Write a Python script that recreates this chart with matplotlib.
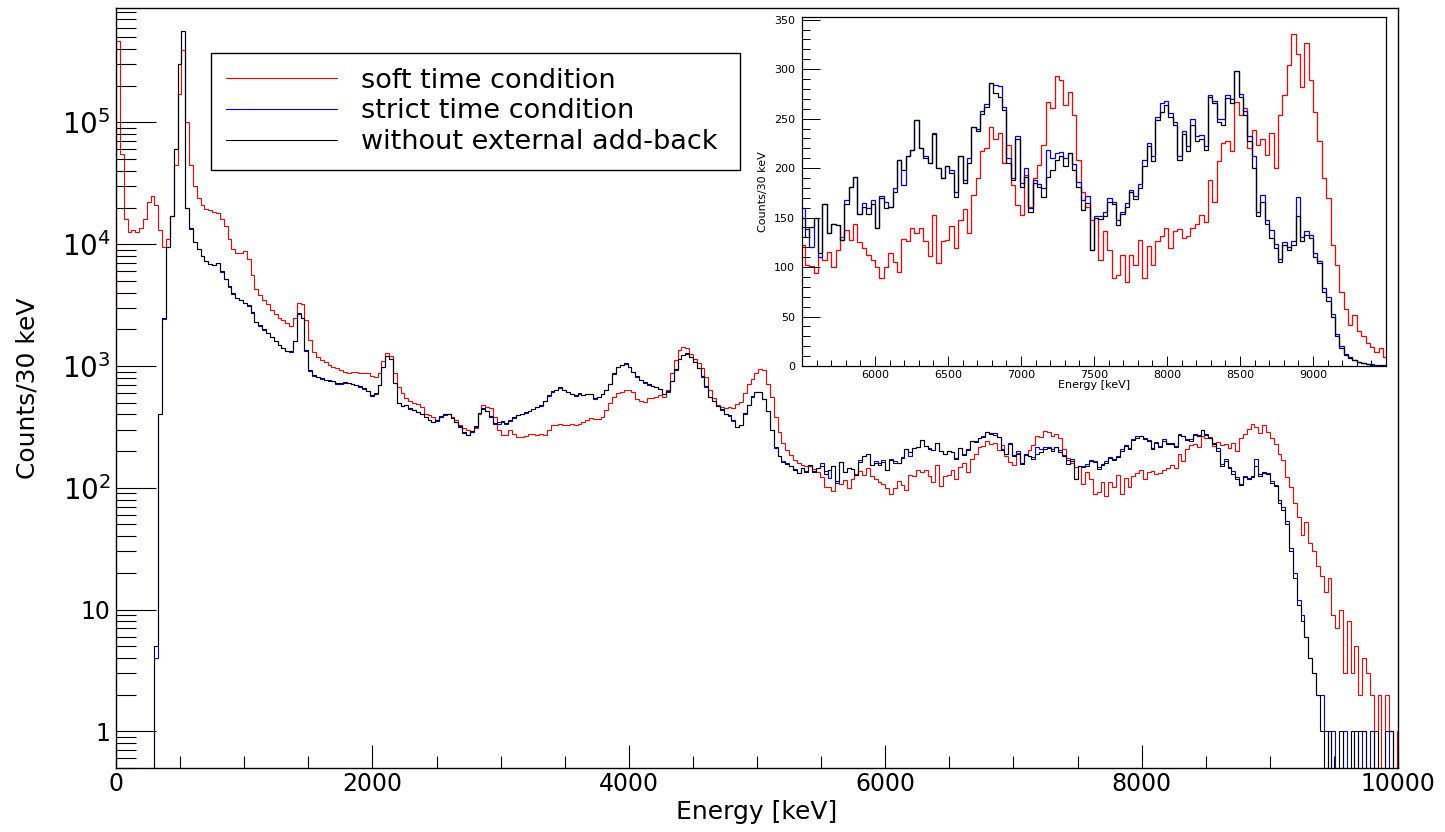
import numpy as np
import matplotlib
matplotlib.use("Agg")
import matplotlib.pyplot as plt
from matplotlib.lines import Line2D
from matplotlib.ticker import (MultipleLocator, FixedLocator, LogLocator, NullFormatter)

plt.rcParams['font.family'] = ['DejaVu Sans']
plt.rcParams['mathtext.default'] = 'regular'

# histogram binning: 30 keV bins, first bin (-30..0) only gives the step at E = 0
bin_width = 30
first_edge = -30

# counts per bin (rows of 10 bins = 300 keV)
soft_time = [3000,
    470000, 55000, 16000, 12500, 13000, 12500, 13500, 16000, 22000, 25000,
    21000, 13000, 9500, 11000, 17000, 45000, 170000, 390000, 100000, 45000,
    30000, 24000, 21000, 19500, 19000, 18500, 18000, 16000, 14000, 11000,
    9200, 8400, 8400, 8800, 7500, 5600, 4300, 3800, 3500, 3200,
    2900, 2650, 2500, 2400, 2250, 2150, 2500, 3300, 3200, 2400,
    1650, 1300, 1180, 1120, 1070, 1020, 990, 960, 930, 900,
    870, 890, 900, 870, 870, 870, 820, 810, 880, 1100,
    1270, 1200, 870, 670, 600, 550, 520, 500, 490, 460,
    407, 394, 380, 359, 382, 400, 407, 382, 359, 327,
    307, 300, 288, 307, 400, 477, 460, 448, 382, 297,
    270, 272, 297, 275, 262, 262, 268, 279, 274, 270,
    279, 270, 300, 327, 327, 337, 330, 327, 337, 327,
    337, 345, 359, 371, 365, 370, 382, 434, 500, 560,
    600, 614, 633, 633, 610, 540, 515, 508, 541, 541,
    558, 576, 558, 633, 869, 1117, 1350, 1420, 1400, 1260,
    1150, 1049, 955, 815, 633, 541, 477, 462, 455, 460,
    448, 492, 508, 595, 718, 789, 869, 940, 925, 718,
    558, 382, 288, 231, 204, 185, 170, 160, 155, 152,
    150, 142, 135, 122, 102, 101, 94, 110, 107, 115,
    100, 117, 130, 137, 127, 144, 125, 119, 112, 107,
    100, 89, 100, 114, 105, 95, 128, 126, 139, 134,
    139, 126, 111, 153, 104, 126, 127, 141, 119, 148,
    159, 134, 173, 190, 217, 220, 242, 229, 235, 205,
    223, 183, 163, 153, 193, 161, 190, 203, 223, 267,
    261, 293, 289, 264, 277, 254, 208, 176, 161, 148,
    150, 107, 136, 117, 89, 92, 112, 85, 112, 102,
    127, 89, 121, 102, 126, 131, 139, 119, 136, 138,
    129, 131, 139, 144, 153, 146, 188, 166, 207, 225,
    227, 217, 267, 254, 261, 220, 239, 223, 229, 213,
    235, 200, 254, 274, 304, 336, 315, 282, 326, 289,
    257, 227, 190, 170, 122, 102, 75, 58, 41, 52,
    35, 30, 23, 19, 14, 18, 9, 7, 10, 3,
    8, 3, 5, 2, 4, 3, 2, 1, 2, 0,
    2, 1, 0, 1]

strict_time = [0,
    0, 0, 0, 0, 0, 0, 0, 0, 0, 0,
    4, 400, 2450, 9500, 17000, 60000, 300000, 560000, 20000, 13400,
    10400, 9100, 8000, 7250, 6850, 6750, 6950, 5950, 5150, 4450,
    3900, 3650, 3450, 3300, 3120, 2720, 2300, 2150, 1990, 1860,
    1720, 1600, 1490, 1395, 1320, 1310, 1590, 2650, 2480, 1340,
    915, 830, 805, 785, 765, 760, 755, 715, 718, 730,
    725, 712, 696, 676, 650, 618, 572, 592, 698, 975,
    1200, 1140, 728, 498, 468, 476, 446, 432, 418, 402,
    378, 360, 348, 356, 383, 398, 402, 372, 346, 316,
    283, 270, 288, 316, 410, 444, 425, 383, 333, 336,
    344, 332, 356, 376, 393, 404, 415, 425, 442, 460,
    472, 516, 570, 616, 638, 662, 636, 606, 586, 572,
    590, 576, 584, 586, 538, 556, 586, 636, 714, 865,
    985, 1010, 1045, 986, 896, 816, 766, 731, 701, 680,
    670, 650, 586, 616, 755, 935, 1135, 1222, 1262, 1175,
    1075, 955, 816, 676, 555, 512, 467, 437, 404, 392,
    355, 314, 327, 406, 476, 560, 610, 611, 536, 428,
    300, 214, 183, 165, 160, 152, 142, 133, 146, 137,
    153, 137, 146, 160, 138, 120, 150, 110, 164, 134,
    144, 143, 127, 168, 181, 191, 154, 165, 160, 168,
    139, 172, 166, 161, 180, 208, 183, 212, 218, 249,
    220, 212, 205, 235, 200, 190, 202, 198, 176, 212,
    188, 210, 242, 240, 258, 265, 286, 284, 283, 262,
    210, 190, 232, 185, 200, 160, 188, 184, 180, 218,
    210, 215, 216, 210, 215, 204, 186, 168, 172, 117,
    152, 152, 156, 170, 166, 148, 156, 165, 178, 172,
    184, 208, 225, 212, 252, 266, 268, 256, 247, 212,
    238, 222, 250, 232, 233, 222, 274, 268, 250, 250,
    274, 270, 298, 275, 258, 232, 212, 156, 173, 148,
    137, 123, 108, 125, 120, 126, 171, 130, 136, 132,
    114, 106, 79, 70, 53, 32, 20, 12, 9, 6,
    4, 3, 2, 2, 1, 0, 1, 0, 0, 1,
    0, 0, 1, 0, 1, 0, 1, 0, 0, 0,
    0, 1, 0, 0]

no_addback = [0,
    0, 0, 0, 0, 0, 0, 0, 0, 0, 0,
    5, 400, 2500, 9500, 17000, 60000, 300000, 560000, 20000, 13500,
    10500, 9200, 8000, 7300, 6900, 6800, 7000, 6000, 5200, 4500,
    3950, 3650, 3450, 3300, 3150, 2750, 2300, 2170, 2000, 1870,
    1730, 1610, 1500, 1400, 1330, 1320, 1600, 2700, 2500, 1350,
    925, 840, 810, 790, 770, 765, 760, 720, 720, 735,
    730, 715, 700, 680, 655, 620, 577, 595, 700, 980,
    1210, 1150, 730, 500, 470, 480, 450, 436, 420, 405,
    380, 362, 350, 360, 385, 400, 405, 375, 350, 320,
    285, 272, 290, 320, 415, 448, 430, 390, 340, 345,
    352, 338, 362, 380, 397, 407, 418, 428, 445, 462,
    475, 520, 575, 620, 641, 667, 640, 610, 590, 576,
    595, 580, 588, 590, 541, 560, 590, 640, 718, 870,
    990, 1016, 1049, 990, 900, 820, 770, 735, 705, 684,
    674, 653, 590, 620, 760, 940, 1140, 1228, 1268, 1180,
    1080, 960, 820, 680, 558, 515, 470, 440, 407, 396,
    359, 316, 330, 410, 480, 565, 614, 614, 540, 430,
    300, 215, 182, 163, 158, 150, 140, 131, 145, 135,
    153, 135, 144, 150, 130, 140, 150, 114, 164, 134,
    144, 143, 127, 164, 181, 191, 154, 161, 154, 164,
    139, 170, 160, 161, 176, 208, 198, 212, 218, 249,
    220, 210, 205, 234, 200, 190, 202, 195, 171, 212,
    185, 205, 242, 237, 255, 262, 286, 276, 272, 259,
    205, 188, 229, 181, 191, 156, 185, 181, 171, 191,
    198, 208, 212, 202, 215, 198, 181, 158, 165, 117,
    150, 149, 152, 166, 164, 143, 154, 161, 176, 169,
    180, 202, 222, 207, 249, 257, 264, 252, 244, 208,
    234, 217, 244, 227, 229, 218, 272, 266, 247, 244,
    271, 266, 298, 272, 254, 227, 200, 152, 166, 144,
    129, 119, 105, 122, 117, 122, 152, 126, 132, 129,
    110, 104, 75, 66, 50, 30, 18, 11, 8, 6,
    4, 3, 2, 1, 0, 1, 0, 0, 1, 0,
    0, 1, 0, 1, 1, 0, 0, 1, 0, 0,
    1, 1, 0, 0]

labels = ["soft time condition", "strict time condition", "without external add-back"]
colors = ["#ff0000", "#0000ff", "#000000"]
series = [soft_time, strict_time, no_addback]

y_ticks = [1, 10, 1e2, 1e3, 1e4, 1e5]
y_ticklabels = ['1', '10', r'$10^{2}$', r'$10^{3}$', r'$10^{4}$', r'$10^{5}$']

edges = first_edge + bin_width * np.arange(len(soft_time) + 1)

fig = plt.figure(figsize=(14.45, 8.32), dpi=100)

# ---- main spectrum (log) ----
ax = fig.add_axes([0.0803, 0.0769, 0.8872, 0.9135])
for vals, c in zip(series, colors):
    ax.stairs(vals, edges, baseline=None, color=c, lw=0.8)
ax.set_yscale('log', nonpositive='clip')
ax.set_xlim(0, 10000)
ax.set_ylim(0.5, 8.7e5)

ax.xaxis.set_major_locator(MultipleLocator(2000))
ax.xaxis.set_minor_locator(MultipleLocator(500))
ax.set_yticks(y_ticks, labels=y_ticklabels)
ax.yaxis.set_minor_locator(LogLocator(base=10, subs=np.arange(2, 10), numticks=30))
ax.yaxis.set_minor_formatter(NullFormatter())

ax.tick_params(axis='x', which='major', direction='in', length=16.5, width=0.8,
               labelsize=17, pad=3, top=False)
ax.tick_params(axis='x', which='minor', direction='in', length=8.5, width=0.8, top=False)
ax.tick_params(axis='y', which='major', direction='in', length=29, width=0.8,
               labelsize=17, pad=4, right=False)
ax.tick_params(axis='y', which='minor', direction='in', length=14.5, width=0.8, right=False)
# the power-of-ten labels are drawn a bit larger than the plain ones
for t in ax.get_yticklabels():
    if '^' in t.get_text():
        t.set_fontsize(20)
for s in ax.spines.values():
    s.set_linewidth(1.0)

ax.set_xlabel('Energy [keV]', fontsize=18)
ax.xaxis.set_label_coords(0.5, -0.042)
ax.set_ylabel('Counts/30 keV', fontsize=18)
ax.yaxis.set_label_coords(-0.060, 0.5)

handles = [Line2D([], [], color=c, lw=0.8) for c in colors]
leg = ax.legend(handles, labels, loc='upper left',
                bbox_to_anchor=(0.0741, 0.7895, 0.4126, 0.1513), mode='expand',
                borderaxespad=0, fontsize=19.5, handlelength=4.1, handletextpad=0.9,
                borderpad=0.55, labelspacing=0.17, frameon=True, fancybox=False,
                edgecolor='black', framealpha=1)
leg.get_frame().set_linewidth(1.0)

# ---- inset: 5.5 - 9.5 MeV, linear ----
ins = fig.add_axes([0.5550, 0.5601, 0.4042, 0.4198])
ins.set_facecolor('white')
for vals, c in zip(series, colors):
    ins.stairs(vals, edges, baseline=None, color=c, lw=0.9)
ins.set_xlim(5500, 9500)
ins.set_ylim(0, 353)
ins.xaxis.set_major_locator(FixedLocator(np.arange(6000, 9001, 500)))
ins.xaxis.set_minor_locator(MultipleLocator(100))
ins.yaxis.set_major_locator(MultipleLocator(50))
ins.yaxis.set_minor_locator(MultipleLocator(10))
ins.tick_params(axis='x', which='major', direction='in', length=7.2, width=0.7,
                labelsize=8, pad=3, top=False)
ins.tick_params(axis='x', which='minor', direction='in', length=4.3, width=0.7, top=False)
ins.tick_params(axis='y', which='major', direction='in', length=13, width=0.7,
                labelsize=8, pad=5, right=False)
ins.tick_params(axis='y', which='minor', direction='in', length=5.8, width=0.7, right=False)
for s in ins.spines.values():
    s.set_linewidth(0.9)
ins.set_xlabel('Energy [keV]', fontsize=8)
ins.xaxis.set_label_coords(0.5, -0.040)
ins.set_ylabel('Counts/30 keV', fontsize=8)
ins.yaxis.set_label_coords(-0.058, 0.5)

fig.savefig('out.png', dpi=100)
